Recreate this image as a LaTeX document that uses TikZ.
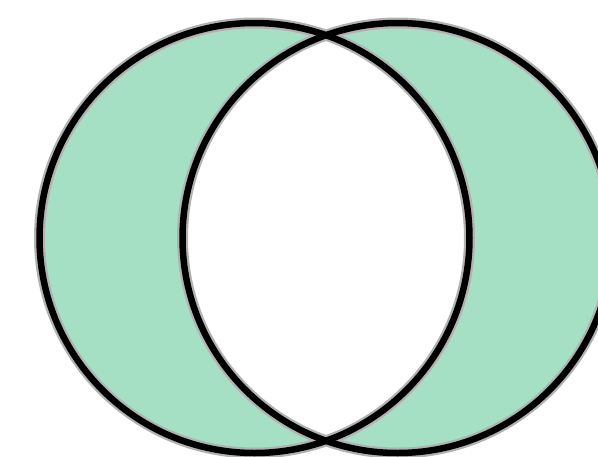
\documentclass[tikz,border=0pt]{standalone}
\begin{document}
\begin{tikzpicture}[x=1pt,y=-1pt,
  halo/.style={draw=black!30,line width=11pt},
  ring/.style={draw=black,line width=6.5pt}]
\definecolor{mint}{RGB}{165,224,197}
\useasboundingbox (0,0) rectangle (598,456);
\clip (0,0) rectangle (598,456);
\coordinate (A) at (254.5,238);
\coordinate (B) at (397.5,238);
\fill[mint,even odd rule] (A) circle[radius=215] (B) circle[radius=215];
\path[halo] (A) circle[radius=215];
\path[halo] (B) circle[radius=215];
\path[ring] (A) circle[radius=215];
\path[ring] (B) circle[radius=215];
\end{tikzpicture}
\end{document}
